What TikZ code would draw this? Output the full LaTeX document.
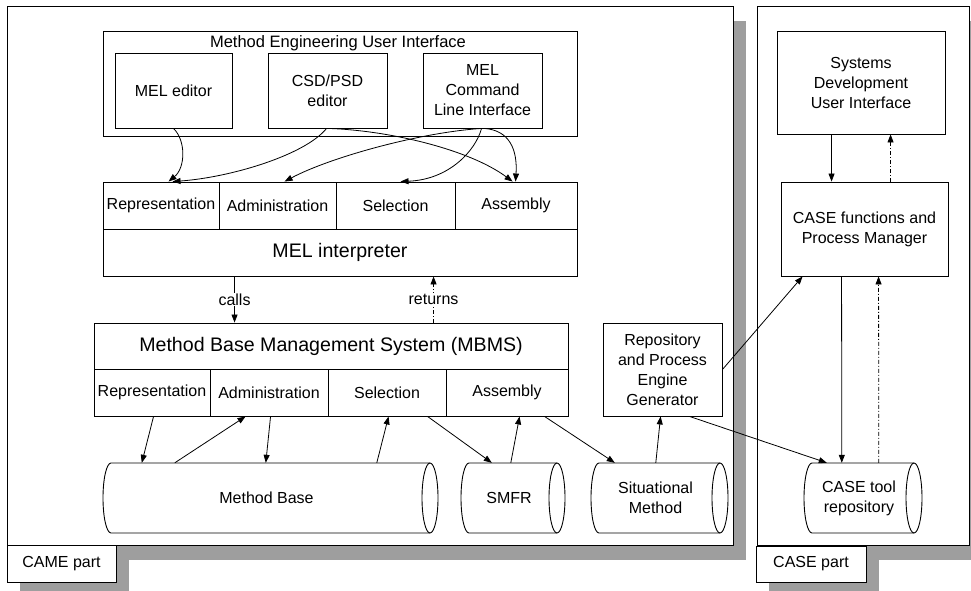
\documentclass[tikz,border=0pt]{standalone}
\usepackage{fontspec}
\setmainfont{Liberation Sans}
\usetikzlibrary{arrows.meta}
\tikzset{
  box/.style={draw, line width=0.9pt, inner sep=0pt, fill=white, align=center,
    font=\fontsize{16}{20}\selectfont},
  big/.style={box, font=\fontsize{19.6}{22}\selectfont},
  lbl/.style={font=\fontsize{16}{20}\selectfont, inner sep=1pt, align=center},
  arr/.style={line width=0.8pt, -{Triangle[length=8pt,width=6pt]}},
  darr/.style={arr, dash pattern=on 4pt off 2pt on 1pt off 2pt},
  shadow/.style={fill=black!38, draw=none},
  panel/.style={draw, line width=0.9pt, fill=white, inner sep=0pt},
  cylline/.style={line width=0.9pt},
  nobox/.style={inner sep=0pt, align=center, font=\fontsize{16}{20}\selectfont},
}
% \bx{style}{name}{x1}{y1}{x2}{y2}{text}
\newcommand\bx[7]{%
  \node[#1, minimum width={#5-#3}, minimum height={#6-#4}] (#2)
    at ({(#3+#5)/2},{(#4+#6)/2}) {#7};%
}
\newcommand\mycyl[4]{%
  \draw[cylline, fill=white] (#1+8,#2) -- (#3-8,#2)
    arc[start angle=-90,end angle=90,x radius=8,y radius={(#4-#2)/2}]
    -- (#1+8,#4)
    arc[start angle=90,end angle=270,x radius=8,y radius={(#4-#2)/2}] -- cycle;
  \draw[cylline] (#3-8,#2)
    arc[start angle=-90,end angle=-270,x radius=8,y radius={(#4-#2)/2}];
}
\begin{document}
\begin{tikzpicture}[x=1pt,y=-1pt]
\useasboundingbox (0,0) rectangle (971,591);
\clip (0,0) rectangle (971,591);
% shadows
\fill[shadow] (20,21) rectangle (746,560);
\fill[shadow] (770,21) rectangle (990,560);
\fill[shadow] (20,555) rectangle (129,600);
\fill[shadow] (769,556) rectangle (879,600);
% panels
\bx{panel}{came}{7}{6}{733}{545}{}
\bx{panel}{casep}{757}{6}{969}{545}{}
\bx{box}{camelbl}{7}{545}{116}{582}{CAME part}
\bx{box}{caselbl}{756}{546}{866}{582}{CASE part}
% method engineering user interface
\bx{box}{meui}{103}{31}{577}{136}{}
\node[lbl, font=\fontsize{16.5}{20}\selectfont] (meuititle) at (338,43) {Method Engineering User Interface};
\bx{box}{meled}{115}{53}{232}{128}{MEL editor}
\bx{box}{csd}{268}{53}{387}{128}{CSD/PSD\\editor}
\bx{box}{cli}{423}{53}{542}{128}{MEL\\Command\\Line Interface}
% MEL interpreter
\bx{box}{urep}{103}{182}{219}{229}{Representation}
\bx{box}{uadm}{219}{182}{336}{229}{Administration}
\bx{box}{usel}{336}{182}{455}{229}{Selection}
\bx{box}{uasm}{455}{182}{577}{229}{Assembly}
\bx{big}{melint}{103}{229}{577}{276}{MEL interpreter}
% MBMS
\bx{big}{mbms}{94}{323}{568}{369}{Method Base Management System (MBMS)}
\bx{box}{lrep}{94}{369}{210}{416}{Representation}
\bx{box}{ladm}{210}{369}{328}{416}{Administration}
\bx{box}{lsel}{328}{369}{446}{416}{Selection}
\bx{box}{lasm}{446}{369}{568}{416}{Assembly}
% cylinders
\mycyl{103}{463}{438}{533}
\bx{nobox}{mb}{103}{463}{430}{533}{Method Base}
\mycyl{461}{463}{565}{533}
\bx{nobox}{smfr}{461}{463}{557}{533}{SMFR}
\mycyl{591}{463}{728}{533}
\bx{nobox}{sit}{591}{463}{720}{533}{Situational\\Method}
\mycyl{804}{463}{922}{533}
\bx{nobox}{caserepo}{804}{463}{914}{533}{CASE tool\\repository}
% generator and CASE side
\bx{box}{repo}{603}{323}{722}{416}{Repository\\and Process\\Engine\\Generator}
\bx{box}{sdui}{777}{31}{945}{134}{Systems\\Development\\User Interface}
\bx{box}{casef}{781}{182}{948}{276}{CASE functions and\\Process Manager}
% curved arrows from UI
\draw[arr] (meled.south) .. controls +(12.5,12) and +(17,-14) .. ([xshift=66pt]urep.north west);
\draw[arr] ([xshift=59pt]csd.south west) .. controls +(-22,27) and +(57,-4) .. ([xshift=70pt]urep.north west);
\draw[arr] ([xshift=61pt]csd.south west) .. controls +(61,2) and +(-43,-32) .. ([xshift=58pt]uasm.north west);
\draw[arr] ([xshift=59pt]cli.south west) .. controls +(-62,4) and +(45,-24) .. ([xshift=66pt]uadm.north west);
\draw[arr] ([xshift=59pt]cli.south west) .. controls +(-6,22) and +(49,-2) .. ([xshift=65pt]usel.north west);
\draw[arr] ([xshift=62pt]cli.south west) .. controls +(25,2) and +(2,-32) .. ([xshift=61pt]uasm.north west);
% calls / returns
\draw[arr] ([xshift=132pt]melint.south west) -- node[lbl, fill=white] (callslbl) {calls} ([xshift=141pt]mbms.north west);
\draw[darr] ([xshift=340pt]mbms.north west) -- node[lbl, fill=white] (returnslbl) {returns} ([xshift=331pt]melint.south west);
% MBMS <-> stores
\draw[arr] ([xshift=60pt]lrep.south west) -- ([xshift=39pt]mb.north west);
\draw[arr] ([xshift=72pt]mb.north west) -- ([xshift=36pt]ladm.south west);
\draw[arr] ([xshift=61pt]ladm.south west) -- ([xshift=163pt]mb.north west);
\draw[arr] ([xshift=274pt]mb.north west) -- ([xshift=61pt]lsel.south west);
\draw[arr] ([xshift=100pt]lsel.south west) -- ([xshift=31pt]smfr.north west);
\draw[arr] ([xshift=50pt]smfr.north west) -- ([xshift=74pt]lasm.south west);
\draw[arr] ([xshift=99pt]lasm.south west) -- ([xshift=24pt]sit.north west);
\draw[arr] ([xshift=65pt]sit.north west) -- ([xshift=58pt]repo.south west);
\draw[arr] (repo.east) -- ([xshift=22pt]casef.south west);
\draw[arr] ([xshift=87pt]repo.south west) -- ([xshift=23pt]caserepo.north west);
% CASE side
\draw[arr] ([xshift=55pt]sdui.south west) -- ([xshift=51pt]casef.north west);
\draw[darr] ([xshift=110pt]casef.north west) -- ([xshift=114pt]sdui.south west);
\draw[arr] ([xshift=61pt]casef.south west) -- ([xshift=38pt]caserepo.north west);
\draw[darr] ([xshift=75pt]caserepo.north west) -- ([xshift=98pt]casef.south west);
\end{tikzpicture}
\end{document}
